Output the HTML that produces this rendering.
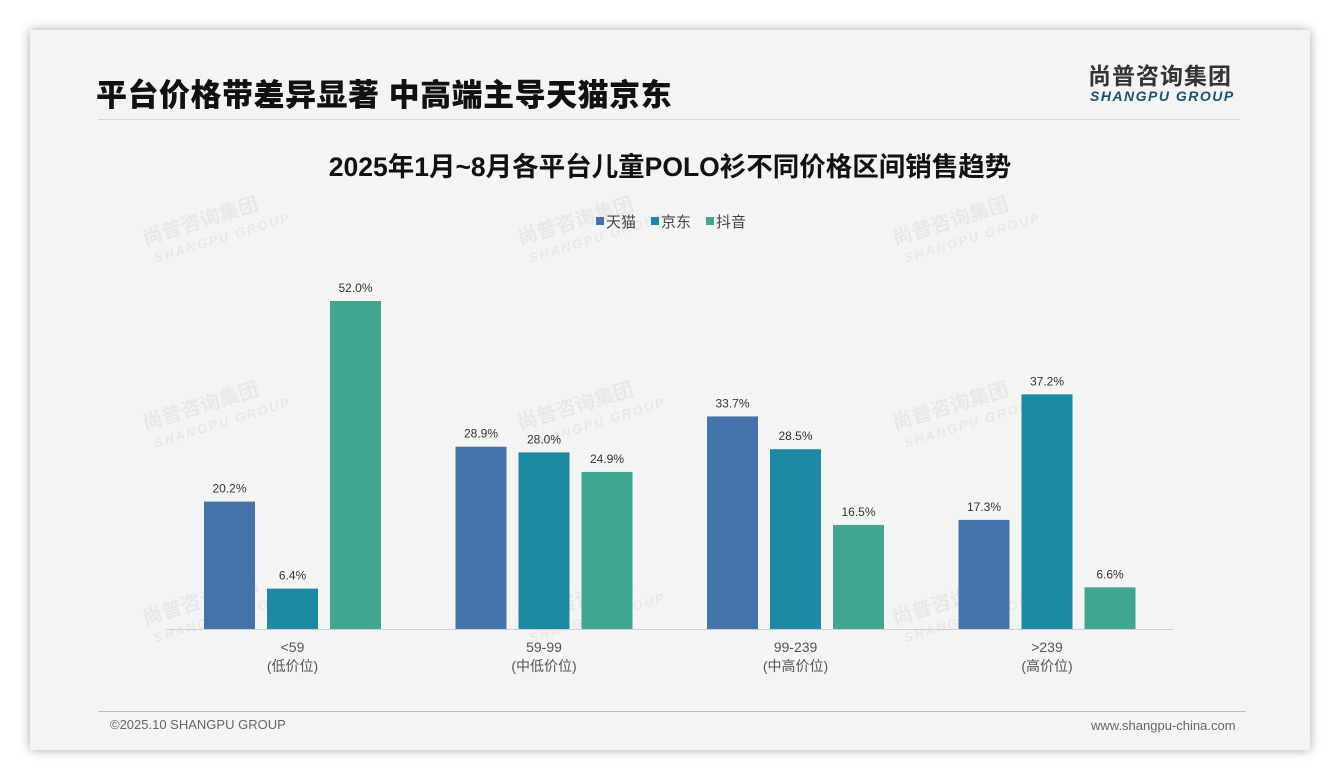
<!DOCTYPE html>
<html><head><meta charset="utf-8"><style>
body{margin:0;width:1340px;height:780px;background:#fff;font-family:"Liberation Sans","Noto Sans CJK SC",sans-serif;overflow:hidden;position:relative}
#card{position:absolute;left:30px;top:30px;width:1280px;height:720px;background:#f4f4f4;box-shadow:0 0 10px rgba(0,0,0,.35)}
.t{position:absolute;white-space:nowrap;line-height:1}
</style></head><body>
<div id="card"></div>
<div class="t" style="left:96px;top:80px;font-size:31px;font-weight:900;color:#111;letter-spacing:0.5px">平台价格带差异显著 中高端主导天猫京东</div>
<div style="position:absolute;left:98px;top:119px;width:1142px;height:1px;background:#d8d8d8"></div>
<div class="t" style="left:1088px;top:65px;font-size:23px;font-weight:bold;color:#333;letter-spacing:1px">尚普咨询集团</div>
<div class="t" style="left:1090px;top:89px;font-size:14px;font-weight:bold;font-style:italic;color:#1f4e79;letter-spacing:1.5px">SHANGPU GROUP</div>
<div class="t" style="left:0;width:1340px;text-align:center;top:154px;font-size:26.5px;font-weight:bold;color:#111">2025年1月~8月各平台儿童POLO衫不同价格区间销售趋势</div>
<div style="position:absolute;left:98px;top:711px;width:1148px;height:1px;background:#9fc3e0"></div>
<div class="t" style="left:110px;top:718px;font-size:13px;color:#666">©2025.10 SHANGPU GROUP</div>
<div class="t" style="left:1091px;top:719px;font-size:13px;color:#666">www.shangpu-china.com</div>
<svg id="chart" width="1340" height="780" style="position:absolute;left:0;top:0"></svg>
<script>
const categories=["<59","59-99","99-239",">239"];
const subLabels=["(低价位)","(中低价位)","(中高价位)","(高价位)"];
const seriesNames=["天猫","京东","抖音"];
const tmall=[20.2,28.9,33.7,17.3];
const jd=[6.4,28.0,28.5,37.2];
const douyin=[52.0,24.9,16.5,6.6];
const series=[tmall,jd,douyin];
const colors=["#4473a9","#1a89a1","#40a691"];
const svg=document.getElementById('chart');const NS="http://www.w3.org/2000/svg";
const base=629,scale=328/52,x0=292.5,step=251.5,bw=51,off=[-63,0,63];
const yS=v=>base-v*scale,xS=i=>x0+i*step;
function mk(t,a,txt){const e=document.createElementNS(NS,t);for(const k in a)e.setAttribute(k,a[k]);if(txt!=null)e.textContent=txt;svg.appendChild(e);return e;}
[[145,245],[520,245],[895,245],[145,430],[520,430],[895,430],[145,625],[520,625],[895,625]].forEach(p=>{
 const g=mk('text',{x:p[0],y:p[1],transform:`rotate(-17 ${p[0]} ${p[1]})`,'font-size':20,'font-weight':'bold',fill:'#e8e8e8'},'尚普咨询集团');
 
 const h=mk('text',{x:p[0]+5,y:p[1]+20,transform:`rotate(-17 ${p[0]} ${p[1]})`,'font-size':13,'font-weight':'bold','font-style':'italic',fill:'#e8e8e8','letter-spacing':2},'SHANGPU GROUP');
 
});
const ax=mk('line',{x1:166,x2:1173,y1:base+0.5,y2:base+0.5,stroke:'#d0d0d0'});

series.forEach((s,si)=>s.forEach((v,i)=>{
 const x=xS(i)+off[si]-bw/2;
 const r=mk('rect',{x:x,y:yS(v),width:bw,height:v*scale,fill:colors[si]});
 
 const l=mk('text',{x:x+bw/2,y:yS(v)-9,'text-anchor':'middle','font-size':12,fill:'#333'},v.toFixed(1)+'%');
 
}));
categories.forEach((c,i)=>{
 const a=mk('text',{x:xS(i),y:652,'text-anchor':'middle','font-size':14,fill:'#555'},c);
 
 const b=mk('text',{x:xS(i),y:671,'text-anchor':'middle','font-size':14,fill:'#555'},subLabels[i]);
 
});
let lx=596;
seriesNames.forEach((n,i)=>{
 const r=mk('rect',{x:lx,y:217,width:8,height:8,fill:colors[i]});
 
 const t=mk('text',{x:lx+10,y:227,'font-size':15,fill:'#444'},n);
 
 lx+=55;
});
</script>
</body></html>
